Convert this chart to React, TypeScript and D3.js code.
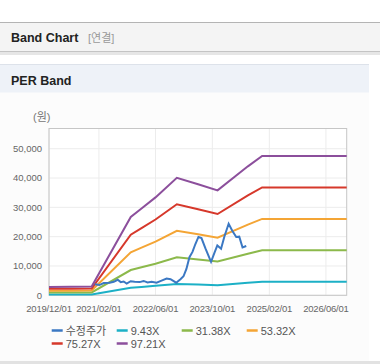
import React from "react";
import * as d3 from "d3";

const bandDates = [
  "2019-12-01", "2020-06-01", "2020-12-01", "2021-11-01", "2022-02-01", "2022-06-01",
  "2022-12-01", "2023-06-01", "2023-11-15", "2024-08-01", "2024-12-01", "2026-11-26",
];
const band943 = [280, 280, 290, 2590, 2870, 3240, 3890, 3680, 3470, 4270, 4650, 4650];
const band3138 = [920, 940, 970, 8620, 9560, 10780, 12950, 12230, 11560, 14200, 15330, 15330];
const band5332 = [1560, 1590, 1650, 14650, 16240, 18320, 22000, 20790, 19640, 24130, 26050, 26050];
const band7527 = [2210, 2250, 2320, 20670, 22920, 25860, 31050, 29350, 27720, 34070, 36780, 36780];
const band9721 = [2850, 2900, 3000, 26700, 29600, 33400, 40100, 37900, 35800, 44000, 47500, 47500];

const priceDates = [
  "2020-12-28", "2021-02-05", "2021-03-14", "2021-05-05", "2021-06-08", "2021-07-12",
  "2021-08-07", "2021-09-01", "2021-09-27", "2021-10-31", "2021-12-04", "2022-01-16",
  "2022-02-19", "2022-03-25", "2022-04-29", "2022-06-10", "2022-07-23", "2022-09-04",
  "2022-10-08", "2022-11-25", "2023-01-01", "2023-01-27", "2023-02-21", "2023-03-19",
  "2023-04-14", "2023-05-09", "2023-06-04", "2023-06-30", "2023-08-03", "2023-09-20",
  "2023-10-19", "2023-11-13", "2023-12-15", "2024-01-12", "2024-02-18", "2024-03-20",
  "2024-04-23", "2024-05-19", "2024-06-16", "2024-07-18",
];
const priceValues = [
  3800, 3500, 4200, 4300, 4600, 5300, 4500, 4700, 4000, 4800, 4600, 4500,
  4900, 4400, 4600, 4300, 5000, 5700, 5500, 4300, 5500, 6500, 9000, 13000,
  14800, 17500, 19900, 19500, 16000, 11400, 14500, 17000, 15900, 20000, 24400, 22000,
  19900, 20000, 16300, 16800,
];

const xTickLabels = ["2019/12/01", "2021/02/01", "2022/06/01", "2023/10/01", "2025/02/01", "2026/06/01"];
const yTicks = [0, 10000, 20000, 30000, 40000, 50000];

const seriesNames = ["수정주가", "9.43X", "31.38X", "53.32X", "75.27X", "97.21X"];
const seriesColors = ["#3b78c3", "#1cb0c6", "#8cb94b", "#f4a535", "#d6382b", "#8c4f9c"];

const parse = d3.timeParse("%Y-%m-%d");
const parseTick = d3.timeParse("%Y/%m/%d");

export default function App() {
  const W = 380, H = 364;
  const left = 49, right = 346.7, top = 128.5, bottom = 295.3;
  const x = d3.scaleTime()
    .domain([parse("2019-12-01")!, parse("2026-11-26")!])
    .range([left, right]);
  const y = d3.scaleLinear().domain([0, 56900]).range([bottom, top]);
  const fmt = d3.format(",");

  const line = d3.line<[Date, number]>().x((d) => x(d[0])).y((d) => y(d[1]));
  const bands = [band943, band3138, band5332, band7527, band9721];
  const bandPaths = bands.map((b) =>
    line(bandDates.map((d, i) => [parse(d)!, b[i]] as [Date, number]))
  );
  const pricePath = line(priceDates.map((d, i) => [parse(d)!, priceValues[i]] as [Date, number]));

  const font = "'Liberation Sans', Arial, 'Noto Sans CJK KR', sans-serif";
  const legendPos = seriesNames.map((_, i) => ({
    x: 51.7 + (i % 4) * 65,
    y: i < 4 ? 330.5 : 343.5,
  }));

  return (
    <div style={{ position: "absolute", left: 0, top: 0 }}>
      <svg width={W} height={H} style={{ display: "block" }}>
        <rect x={0} y={0} width={W} height={H} fill="#ffffff" />
        {/* header */}
        <rect x={0} y={52} width={W} height={3} fill="#e6e6e6" />
        <rect x={0} y={22} width={W} height={30} fill="#f4f4f4" />
        <line x1={0} x2={W} y1={22.5} y2={22.5} stroke="#b4b4b4" />
        <line x1={0} x2={W} y1={51.5} y2={51.5} stroke="#c4c4c4" />
        <text x={11} y={42} fontFamily={font} fontWeight="bold" fontSize={12.5} fill="#222">Band Chart</text>
        <text x={88} y={42} fontFamily={font} fontSize={11} fill="#999">[연결]</text>
        {/* panel */}
        <rect x={0} y={64} width={369} height={297} fill="#fcfcfc" />
        <rect x={0} y={64} width={369} height={28.5} fill="#eef2f8" />
        <line x1={0} x2={369} y1={64.5} y2={64.5} stroke="#dde2ea" />
        <text x={11} y={85} fontFamily={font} fontWeight="bold" fontSize={12.5} fill="#222">PER Band</text>
        <rect x={0} y={361} width={W} height={3} fill="#e2e2e2" />
        {/* plot */}
        <rect x={left} y={top} width={right - left} height={bottom - top} fill="#ffffff" />
        {yTicks.map((t) => (
          <line key={"gy" + t} x1={left} x2={right} y1={y(t)} y2={y(t)} stroke="#ececec" />
        ))}
        {xTickLabels.map((t) => (
          <line key={"gx" + t} x1={x(parseTick(t)!)} x2={x(parseTick(t)!)} y1={top} y2={bottom} stroke="#ececec" />
        ))}
        <rect x={left} y={top} width={right - left} height={bottom - top} fill="none" stroke="#c6c6c6" />
        {yTicks.map((t) => (
          <text key={"ly" + t} x={42} y={y(t) + 3.3} textAnchor="end" fontFamily={font} fontSize={9.5} fill="#666">
            {fmt(t)}
          </text>
        ))}
        {xTickLabels.map((t) => (
          <text key={"lx" + t} x={x(parseTick(t)!)} y={311.5} textAnchor="middle" fontFamily={font} fontSize={9.5} letterSpacing={-0.2} fill="#666">
            {t}
          </text>
        ))}
        <text x={33} y={121} fontFamily={font} fontSize={11} fill="#777">(원)</text>
        {bandPaths.map((p, i) => (
          <path key={"b" + i} d={p || ""} fill="none" stroke={seriesColors[i + 1]} strokeWidth={2} />
        ))}
        <path d={pricePath || ""} fill="none" stroke={seriesColors[0]} strokeWidth={2} />
        {/* legend */}
        {seriesNames.map((n, i) => (
          <g key={"lg" + i}>
            <line x1={legendPos[i].x} x2={legendPos[i].x + 11} y1={legendPos[i].y} y2={legendPos[i].y} stroke={seriesColors[i]} strokeWidth={2.5} />
            <text x={legendPos[i].x + 14} y={legendPos[i].y + 4} fontFamily={font} fontSize={11} fill="#555">{n}</text>
          </g>
        ))}
      </svg>
    </div>
  );
}
